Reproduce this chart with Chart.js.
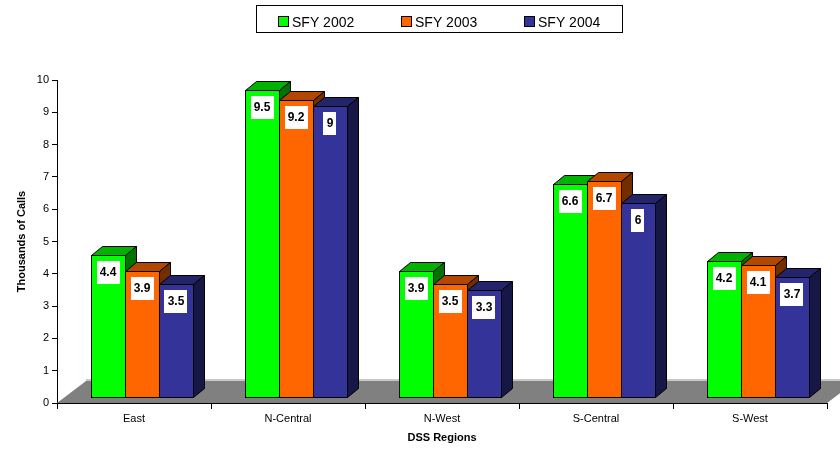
<!DOCTYPE html>
<html>
<head>
<meta charset="utf-8">
<title>Calls by DSS Region</title>
<script src="https://cdn.jsdelivr.net/npm/chart.js@4.4.0/dist/chart.umd.min.js"></script>
<style>
    html, body { margin: 0; padding: 0; background: #fff; }
    canvas { display: block; }
</style>
</head>
<body>
<canvas id="callsChart" width="840" height="449"></canvas>
<script>
const regions = ['East', 'N-Central', 'N-West', 'S-Central', 'S-West'];
const seriesNames = ['SFY 2002', 'SFY 2003', 'SFY 2004'];
const sfy2002 = [4.4, 9.5, 3.9, 6.6, 4.2];
const sfy2003 = [3.9, 9.2, 3.5, 6.7, 4.1];
const sfy2004 = [3.5, 9, 3.3, 6, 3.7];
const yTicks = [0, 1, 2, 3, 4, 5, 6, 7, 8, 9, 10];

const colors = ['#00ff00', '#ff6600', '#333399'];
const FONT = "'Liberation Sans', Arial, sans-serif";

// 3d look
const SHIFT_X = 8, SHIFT_Y = 6;     // bars sit a bit back on the floor
const DEPTH_X = 11, DEPTH_Y = 9;    // bar depth
const FLOOR_X = 29, FLOOR_Y = 22;   // floor depth

function shade(hex, f) {
    const n = parseInt(hex.slice(1), 16);
    const r = Math.round(((n >> 16) & 255) * f);
    const g = Math.round(((n >> 8) & 255) * f);
    const b = Math.round((n & 255) * f);
    return `rgb(${r},${g},${b})`;
}

function poly(ctx, pts, fill) {
    ctx.beginPath();
    ctx.moveTo(pts[0][0], pts[0][1]);
    for (let k = 1; k < pts.length; k++) ctx.lineTo(pts[k][0], pts[k][1]);
    ctx.closePath();
    ctx.fillStyle = fill;
    ctx.fill();
    ctx.stroke();
}

const bars3d = {
    id: 'bars3d',
    beforeDatasetsDraw(chart) {
        const { ctx, chartArea: a } = chart;
        ctx.save();
        ctx.beginPath();
        ctx.moveTo(a.left, a.bottom);
        ctx.lineTo(a.right, a.bottom);
        ctx.lineTo(a.right + FLOOR_X, a.bottom - FLOOR_Y);
        ctx.lineTo(a.left + FLOOR_X, a.bottom - FLOOR_Y);
        ctx.closePath();
        ctx.fillStyle = '#808080';
        ctx.fill();
        ctx.strokeStyle = '#c8c8c8';
        ctx.lineWidth = 2;
        ctx.beginPath();
        ctx.moveTo(a.left + FLOOR_X, a.bottom - FLOOR_Y - 1);
        ctx.lineTo(a.right + FLOOR_X, a.bottom - FLOOR_Y - 1);
        ctx.stroke();
        ctx.strokeStyle = '#000';
        ctx.lineWidth = 1;
        ctx.beginPath();
        ctx.moveTo(a.left, Math.round(a.bottom) + 0.5);
        ctx.lineTo(a.right, Math.round(a.bottom) + 0.5);
        ctx.stroke();
        ctx.restore();

        ctx.save();
        ctx.translate(SHIFT_X, -SHIFT_Y);
    },
    afterDatasetsDraw(chart) {
        const { ctx } = chart;
        const metas = chart.data.datasets.map((d, i) => chart.getDatasetMeta(i));
        ctx.strokeStyle = '#000';
        ctx.lineWidth = 1;
        ctx.lineJoin = 'miter';

        // redraw each group front to back so the side faces overlap correctly
        for (let j = 0; j < regions.length; j++) {
            metas.forEach((meta, i) => {
                const bar = meta.data[j];
                const { x, y, base, width } = bar.getProps(['x', 'y', 'base', 'width'], true);
                const l = Math.round(x - width / 2) + 0.5;
                const r = Math.round(x + width / 2) + 0.5;
                const t = Math.round(y) + 0.5;
                const b = Math.round(base) + 0.5;
                const c = colors[i];
                ctx.fillStyle = c;
                ctx.fillRect(l, t, r - l, b - t);
                ctx.strokeRect(l, t, r - l, b - t);
                poly(ctx, [[l, t], [r, t], [r + DEPTH_X, t - DEPTH_Y], [l + DEPTH_X, t - DEPTH_Y]], shade(c, 0.7));
                poly(ctx, [[r, t], [r + DEPTH_X, t - DEPTH_Y], [r + DEPTH_X, b - DEPTH_Y], [r, b]], shade(c, 0.45));
            });
        }

        // value labels
        ctx.font = `bold 12px ${FONT}`;
        ctx.textAlign = 'center';
        ctx.textBaseline = 'middle';
        metas.forEach((meta, i) => {
            const values = chart.data.datasets[i].data;
            meta.data.forEach((bar, j) => {
                const { x, y } = bar.getProps(['x', 'y'], true);
                const txt = String(values[j]);
                const w = Math.ceil(ctx.measureText(txt).width) + 6;
                const cy = Math.round(y) + 17;
                ctx.fillStyle = '#fff';
                ctx.fillRect(Math.round(x - w / 2), cy - 11, w, 23);
                ctx.fillStyle = '#000';
                ctx.fillText(txt, x, cy + 1);
            });
        });
        ctx.restore();
    },
    afterDraw(chart) {
        // boxed legend across the top
        const { ctx } = chart;
        ctx.save();
        ctx.strokeStyle = '#000';
        ctx.lineWidth = 1;
        ctx.strokeRect(256.5, 5.5, 366, 27);
        ctx.font = `14px ${FONT}`;
        ctx.textAlign = 'left';
        ctx.textBaseline = 'alphabetic';
        const startX = 278, stepX = 123;
        seriesNames.forEach((name, i) => {
            const sx = startX + i * stepX;
            ctx.fillStyle = colors[i];
            ctx.fillRect(sx + 0.5, 16.5, 10, 10);
            ctx.strokeRect(sx + 0.5, 16.5, 10, 10);
            ctx.fillStyle = '#000';
            ctx.fillText(name, sx + 14, 27);
        });
        ctx.restore();
    }
};

const ctx = document.getElementById('callsChart').getContext('2d');
const callsChart = new Chart(ctx, {
    type: 'bar',
    data: {
        labels: regions,
        datasets: [
            { label: seriesNames[0], data: sfy2002, backgroundColor: colors[0] },
            { label: seriesNames[1], data: sfy2003, backgroundColor: colors[1] },
            { label: seriesNames[2], data: sfy2004, backgroundColor: colors[2] }
        ]
    },
    options: {
        responsive: false,
        animation: false,
        devicePixelRatio: 1,
        layout: { padding: { left: 0, right: 13, top: 80, bottom: 0 } },
        datasets: {
            bar: {
                categoryPercentage: 0.662,
                barPercentage: 1,
                borderColor: '#000',
                borderWidth: 1,
                borderSkipped: false
            }
        },
        plugins: {
            legend: { display: false },
            tooltip: { enabled: false }
        },
        scales: {
            x: {
                afterFit: (s) => { s.height = 46; },
                grid: { offset: true, drawOnChartArea: false, color: '#000', tickLength: 6 },
                border: { color: '#000', width: 1 },
                ticks: { color: '#000', font: { family: FONT, size: 11 }, padding: 3, maxRotation: 0 },
                title: {
                    display: true,
                    text: 'DSS Regions',
                    color: '#000',
                    font: { family: FONT, size: 11, weight: 'bold' },
                    padding: 4
                }
            },
            y: {
                min: 0,
                max: 10,
                afterFit: (s) => { s.width = 57; },
                afterBuildTicks: (s) => { s.ticks = yTicks.map(v => ({ value: v })); },
                grid: { drawOnChartArea: false, color: '#000', tickLength: 5 },
                border: { color: '#000', width: 1 },
                ticks: { color: '#000', font: { family: FONT, size: 11 }, padding: 3 },
                title: {
                    display: true,
                    text: 'Thousands of Calls',
                    color: '#000',
                    font: { family: FONT, size: 11, weight: 'bold' },
                    padding: 15
                }
            }
        }
    },
    plugins: [bars3d]
});
</script>
</body>
</html>
